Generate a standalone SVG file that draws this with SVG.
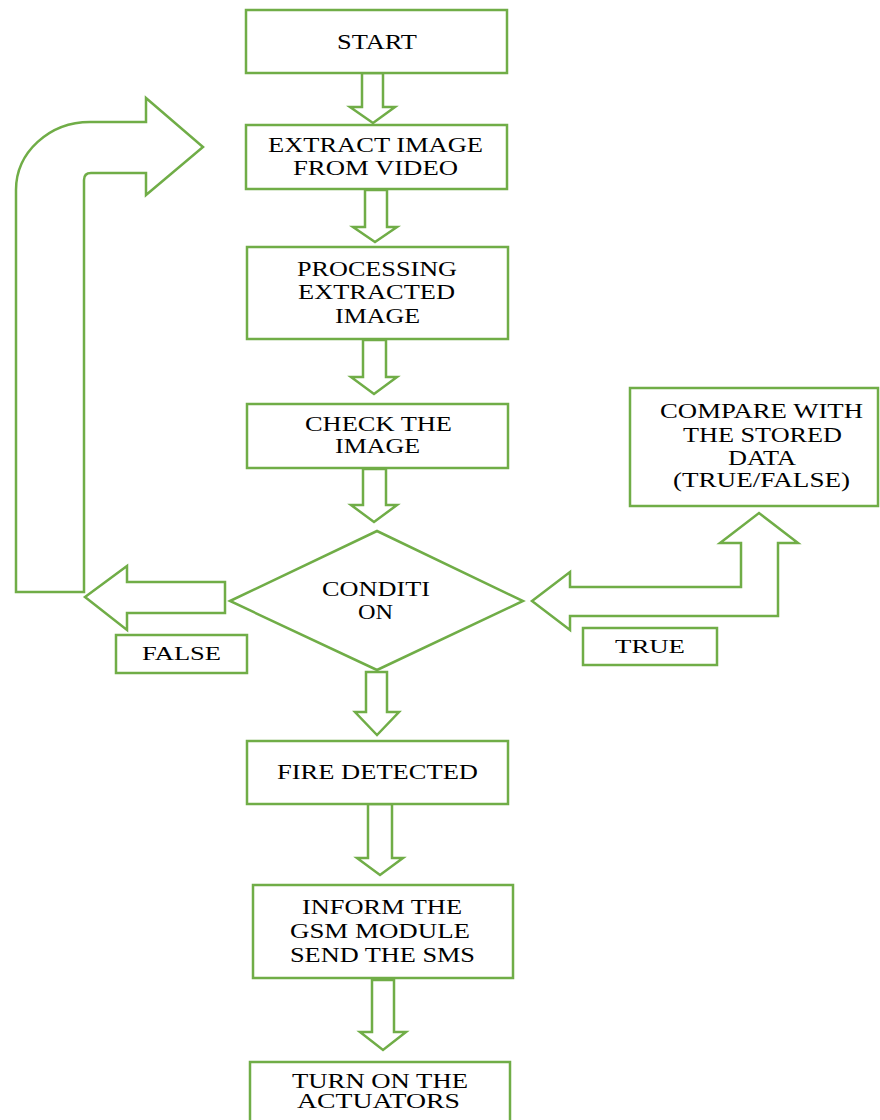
<svg xmlns="http://www.w3.org/2000/svg" width="880" height="1120" viewBox="0 0 880 1120">
<style>
.b{fill:#fff;stroke:#70AD47;stroke-width:2.5}
.a{fill:#fff;stroke:#70AD47;stroke-width:2.5;stroke-linejoin:miter}
text{font-family:"Liberation Serif","Times New Roman",serif;fill:#000;text-anchor:middle;font-size:20px}
.l{font-size:21px}
.s{font-size:18px}
</style>
<rect width="880" height="1120" fill="#fff"/>
<g id="connectors">
<polygon class="a" points="362,73 383,73 383,107 395,107 373,123 350,107 362,107"/>
<polygon class="a" points="365,190 387,190 387,227 397,227 375,242 353,227 365,227"/>
<polygon class="a" points="363,340 386,340 386,377 397,377 374,394 351,377 363,377"/>
<polygon class="a" points="363,469 386,469 386,505 397,505 374,522 351,505 363,505"/>
<polygon class="a" points="366,672 387,672 387,712 399,712 377,735 355,712 366,712"/>
<polygon class="a" points="368,804 392,804 392,858 403,858 380,875 357,858 368,858"/>
<polygon class="a" points="372,980 394,980 394,1032 406,1032 383,1050 360,1032 372,1032"/>
<polygon class="a" points="225,582 127,582 127,566 85,597 127,630 127,613 225,613"/>
<path class="a" d="M16,592 L84,592 L84,180 Q84,173 91,173 L146,173 L146,195 L203,147 L146,98 L146,122 L90,122 A74,68 0 0 0 16,190 Z"/>
<polygon class="a" points="532,601 570,572 570,587 741,587 741,543 720,543 759,513 798,543 778,543 778,616 570,616 570,630"/>
</g>
<g id="start"><rect class="b" x="246" y="10" width="261" height="63"/><text class="l" x="377" y="49" textLength="80" lengthAdjust="spacingAndGlyphs">START</text></g>
<g id="extract"><rect class="b" x="246" y="125" width="261" height="64"/><text class="l" x="375.5" y="152" textLength="215" lengthAdjust="spacingAndGlyphs">EXTRACT IMAGE</text><text class="l" x="375.5" y="175" textLength="165" lengthAdjust="spacingAndGlyphs">FROM VIDEO</text></g>
<g id="processing"><rect class="b" x="247" y="247" width="261" height="92"/><text x="377" y="276" textLength="160" lengthAdjust="spacingAndGlyphs">PROCESSING</text><text x="376.5" y="299" textLength="157" lengthAdjust="spacingAndGlyphs">EXTRACTED</text><text x="377.5" y="323" textLength="85" lengthAdjust="spacingAndGlyphs">IMAGE</text></g>
<g id="check"><rect class="b" x="247" y="404" width="261" height="64"/><text x="378.5" y="431" textLength="147" lengthAdjust="spacingAndGlyphs">CHECK THE</text><text x="377.5" y="453" textLength="85" lengthAdjust="spacingAndGlyphs">IMAGE</text></g>
<g id="condition"><polygon class="b" points="230,601 377,531 523,601 377,670"/><text x="376" y="596" textLength="108" lengthAdjust="spacingAndGlyphs">CONDITI</text><text x="375.5" y="619" textLength="35" lengthAdjust="spacingAndGlyphs">ON</text></g>
<g id="compare"><rect class="b" x="630" y="388" width="248" height="118"/><text x="761.5" y="418" textLength="203" lengthAdjust="spacingAndGlyphs">COMPARE WITH</text><text x="762.5" y="442" textLength="159" lengthAdjust="spacingAndGlyphs">THE STORED</text><text x="762" y="465" textLength="68" lengthAdjust="spacingAndGlyphs">DATA</text><text x="761.5" y="487" textLength="177" lengthAdjust="spacingAndGlyphs">(TRUE/FALSE)</text></g>
<g id="false"><rect class="b" x="116" y="635" width="131" height="38"/><text class="s" x="181.5" y="660" textLength="79" lengthAdjust="spacingAndGlyphs">FALSE</text></g>
<g id="true"><rect class="b" x="583" y="628" width="134" height="37"/><text class="s" x="650" y="653" textLength="70" lengthAdjust="spacingAndGlyphs">TRUE</text></g>
<g id="fire"><rect class="b" x="247" y="741" width="261" height="63"/><text x="377.5" y="779" textLength="201" lengthAdjust="spacingAndGlyphs">FIRE DETECTED</text></g>
<g id="inform"><rect class="b" x="253" y="885" width="260" height="93"/><text x="382" y="914" textLength="160" lengthAdjust="spacingAndGlyphs">INFORM THE</text><text x="380" y="938" textLength="180" lengthAdjust="spacingAndGlyphs">GSM MODULE</text><text x="382.5" y="962" textLength="185" lengthAdjust="spacingAndGlyphs">SEND THE SMS</text></g>
<g id="actuators"><rect class="b" x="250" y="1062" width="260" height="72"/><text x="380" y="1088" textLength="176" lengthAdjust="spacingAndGlyphs">TURN ON THE</text><text x="378.5" y="1108" textLength="163" lengthAdjust="spacingAndGlyphs">ACTUATORS</text></g>
</svg>
